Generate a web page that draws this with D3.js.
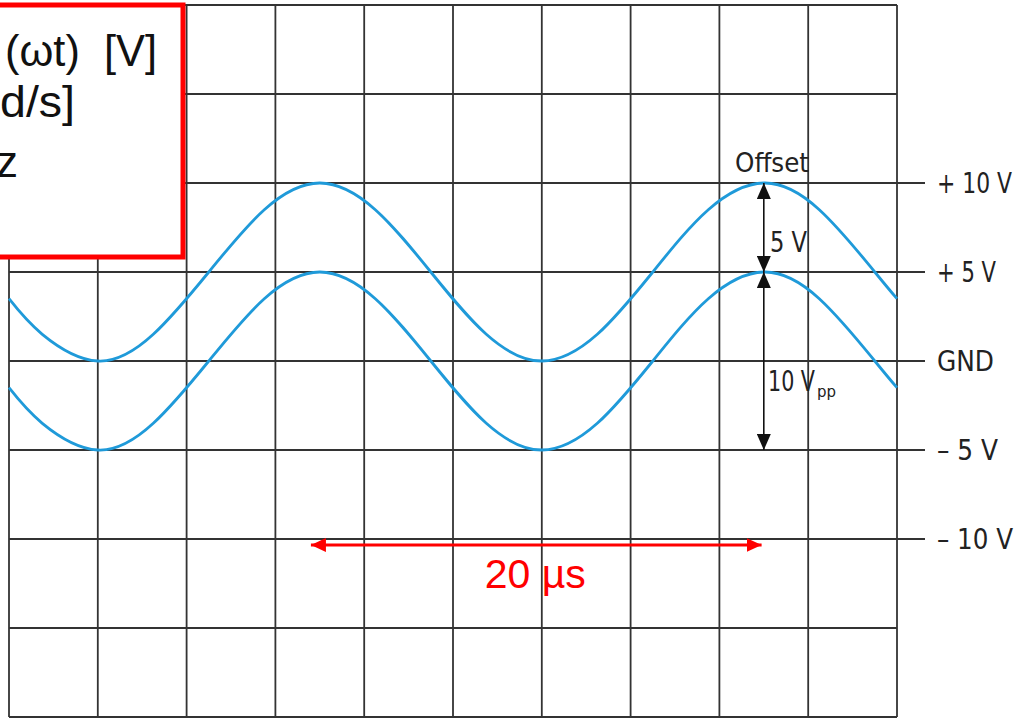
<!DOCTYPE html>
<html>
<head>
<meta charset="utf-8">
<script src="https://cdn.jsdelivr.net/npm/d3@7"></script>
<style>
  html, body { margin: 0; padding: 0; background: #fff; }
  svg { display: block; }
</style>
</head>
<body>
<svg id="chart" width="1014" height="720"></svg>
<script>
// ---- data (time in µs, voltage in V) ----
const timesUs = [0, 1.5, 4, 6.5, 9, 11.5, 14, 16.5, 19, 21.5, 24, 26.5, 29, 31.5, 34, 36.5, 39, 40];
const upperVolts = [3.5, 1.5, 0, 1.5, 5, 8.5, 10, 8.5, 5, 1.5, 0, 1.5, 5, 8.5, 10, 8.5, 5, 3.5];
const lowerVolts = [-1.5, -3.5, -5, -3.5, 0, 3.5, 5, 3.5, 0, -3.5, -5, -3.5, 0, 3.5, 5, 3.5, 0, -1.5];
const timeGridTicks = [0, 4, 8, 12, 16, 20, 24, 28, 32, 36, 40];
const voltGridTicks = [-20, -15, -10, -5, 0, 5, 10, 15, 20];
const labeledVolts = [10, 5, 0, -5, -10];
const voltLabels = ["+ 10 V", "+ 5 V", "GND", "\u2013 5 V", "\u2013 10 V"];
const periodStartUs = 13.6, periodEndUs = 33.9;   // 20 µs marker
const periodLabel = "20 \u00b5s";
const offsetLabel = "Offset";
const offsetValueLabel = "5 V";
const ppLabel = "10 V";
const ppSub = "pp";
const boxLines = ["(\u03c9t)  [V]", "d/s]", "z"];

// ---- layout ----
const svg = d3.select("#chart");
const x = d3.scaleLinear().domain([0, 40]).range([9, 897]);
const y = d3.scaleLinear().domain([-20, 20]).range([717, 5]);
const gridColor = "#333";
const blue = "#1f9ad9";
const narrow = "'Liberation Sans Narrow', 'DejaVu Sans Condensed', 'Liberation Sans', sans-serif";
const labelWidths = [75, 59, 57, 61, 76];

svg.append("rect").attr("width", 1014).attr("height", 720).attr("fill", "#fff");

const defs = svg.append("defs");
function marker(id, color, w, h) {
  defs.append("marker").attr("id", id)
    .attr("viewBox", `0 0 ${h} ${w}`).attr("refX", h).attr("refY", w / 2)
    .attr("markerWidth", h).attr("markerHeight", w)
    .attr("markerUnits", "userSpaceOnUse").attr("orient", "auto-start-reverse")
    .append("path").attr("d", `M0,0 L${h},${w / 2} L0,${w} Z`).attr("fill", color);
}
marker("blk", "#111", 14, 16);
marker("red", "#f00", 14, 15);

// grid
const grid = svg.append("g");
grid.selectAll("line.v").data(timeGridTicks).join("line")
  .attr("x1", d => x(d)).attr("x2", d => x(d))
  .attr("y1", y(20)).attr("y2", y(-20))
  .attr("stroke", gridColor).attr("stroke-width", 1.8);
grid.selectAll("line.h").data(voltGridTicks).join("line")
  .attr("x1", x(0))
  .attr("x2", d => labeledVolts.includes(d) ? 925 : x(40))
  .attr("y1", d => y(d)).attr("y2", d => y(d))
  .attr("stroke", gridColor).attr("stroke-width", 1.8);

// curves
const line = (vals) => d3.line()
  .x((d, i) => x(timesUs[i])).y(d => y(d))
  .curve(d3.curveNatural)(vals);
[upperVolts, lowerVolts].forEach(vals => {
  svg.append("path").attr("d", line(vals))
    .attr("fill", "none").attr("stroke", blue).attr("stroke-width", 2.8);
});

// offset arrow (10 V -> 5 V) and pp arrow (5 V -> -5 V)
const ax = x(34);
svg.append("line").attr("x1", ax).attr("x2", ax)
  .attr("y1", y(10)).attr("y2", y(5))
  .attr("stroke", "#111").attr("stroke-width", 1.6)
  .attr("marker-start", "url(#blk)").attr("marker-end", "url(#blk)");
svg.append("line").attr("x1", ax).attr("x2", ax)
  .attr("y1", y(5)).attr("y2", y(-5))
  .attr("stroke", "#111").attr("stroke-width", 1.6)
  .attr("marker-start", "url(#blk)").attr("marker-end", "url(#blk)");

svg.append("text").attr("x", 735).attr("y", 172)
  .attr("font-family", narrow).attr("font-size", 27).attr("fill", "#222")
  .attr("textLength", 74).attr("lengthAdjust", "spacingAndGlyphs")
  .text(offsetLabel);
svg.append("text").attr("x", 770).attr("y", 252)
  .attr("font-family", narrow).attr("font-size", 28).attr("fill", "#222")
  .attr("textLength", 37).attr("lengthAdjust", "spacingAndGlyphs")
  .text(offsetValueLabel);
const pp = svg.append("text").attr("x", 768).attr("y", 391)
  .attr("font-family", narrow).attr("font-size", 28).attr("fill", "#222");
pp.append("tspan").attr("textLength", 47).attr("lengthAdjust", "spacingAndGlyphs").text(ppLabel);
pp.append("tspan").attr("dy", 6).attr("font-size", 16).attr("dx", 2)
  .attr("textLength", 19).attr("lengthAdjust", "spacingAndGlyphs").text(ppSub);

// right labels
svg.selectAll("text.vl").data(labeledVolts).join("text")
  .attr("x", 937).attr("y", d => y(d) + 10)
  .attr("font-family", narrow).attr("font-size", 29).attr("fill", "#222")
  .attr("textLength", (d, i) => labelWidths[i]).attr("lengthAdjust", "spacingAndGlyphs")
  .text((d, i) => voltLabels[i]);

// 20 µs marker
const ry = y(-10) + 6;
svg.append("line").attr("x1", x(periodStartUs)).attr("x2", x(periodEndUs))
  .attr("y1", ry).attr("y2", ry)
  .attr("stroke", "#f00").attr("stroke-width", 3)
  .attr("marker-start", "url(#red)").attr("marker-end", "url(#red)");
svg.append("text").attr("x", (x(periodStartUs) + x(periodEndUs)) / 2 - 1).attr("y", 588)
  .attr("text-anchor", "middle")
  .attr("font-family", "'Liberation Sans', Arial, sans-serif").attr("font-size", 41)
  .attr("fill", "#f00").text(periodLabel);

// red box (top-left, partially cut off)
svg.append("rect").attr("x", -20).attr("y", 5).attr("width", 203).attr("height", 252)
  .attr("fill", "#fff").attr("stroke", "#f00").attr("stroke-width", 5);
const boxX = [5, 0, -4];
const boxY = [66, 117, 177];
const boxW = [152, 75, 0];
svg.selectAll("text.box").data(boxLines).join("text")
  .attr("x", (d, i) => boxX[i]).attr("y", (d, i) => boxY[i])
  .attr("font-family", "'Liberation Sans', Arial, sans-serif").attr("font-size", 44)
  .attr("fill", "#111").attr("xml:space", "preserve").style("white-space", "pre")
  .each(function (d, i) {
    if (boxW[i]) d3.select(this).attr("textLength", boxW[i]).attr("lengthAdjust", "spacingAndGlyphs");
  })
  .text(d => d);
</script>
</body>
</html>
